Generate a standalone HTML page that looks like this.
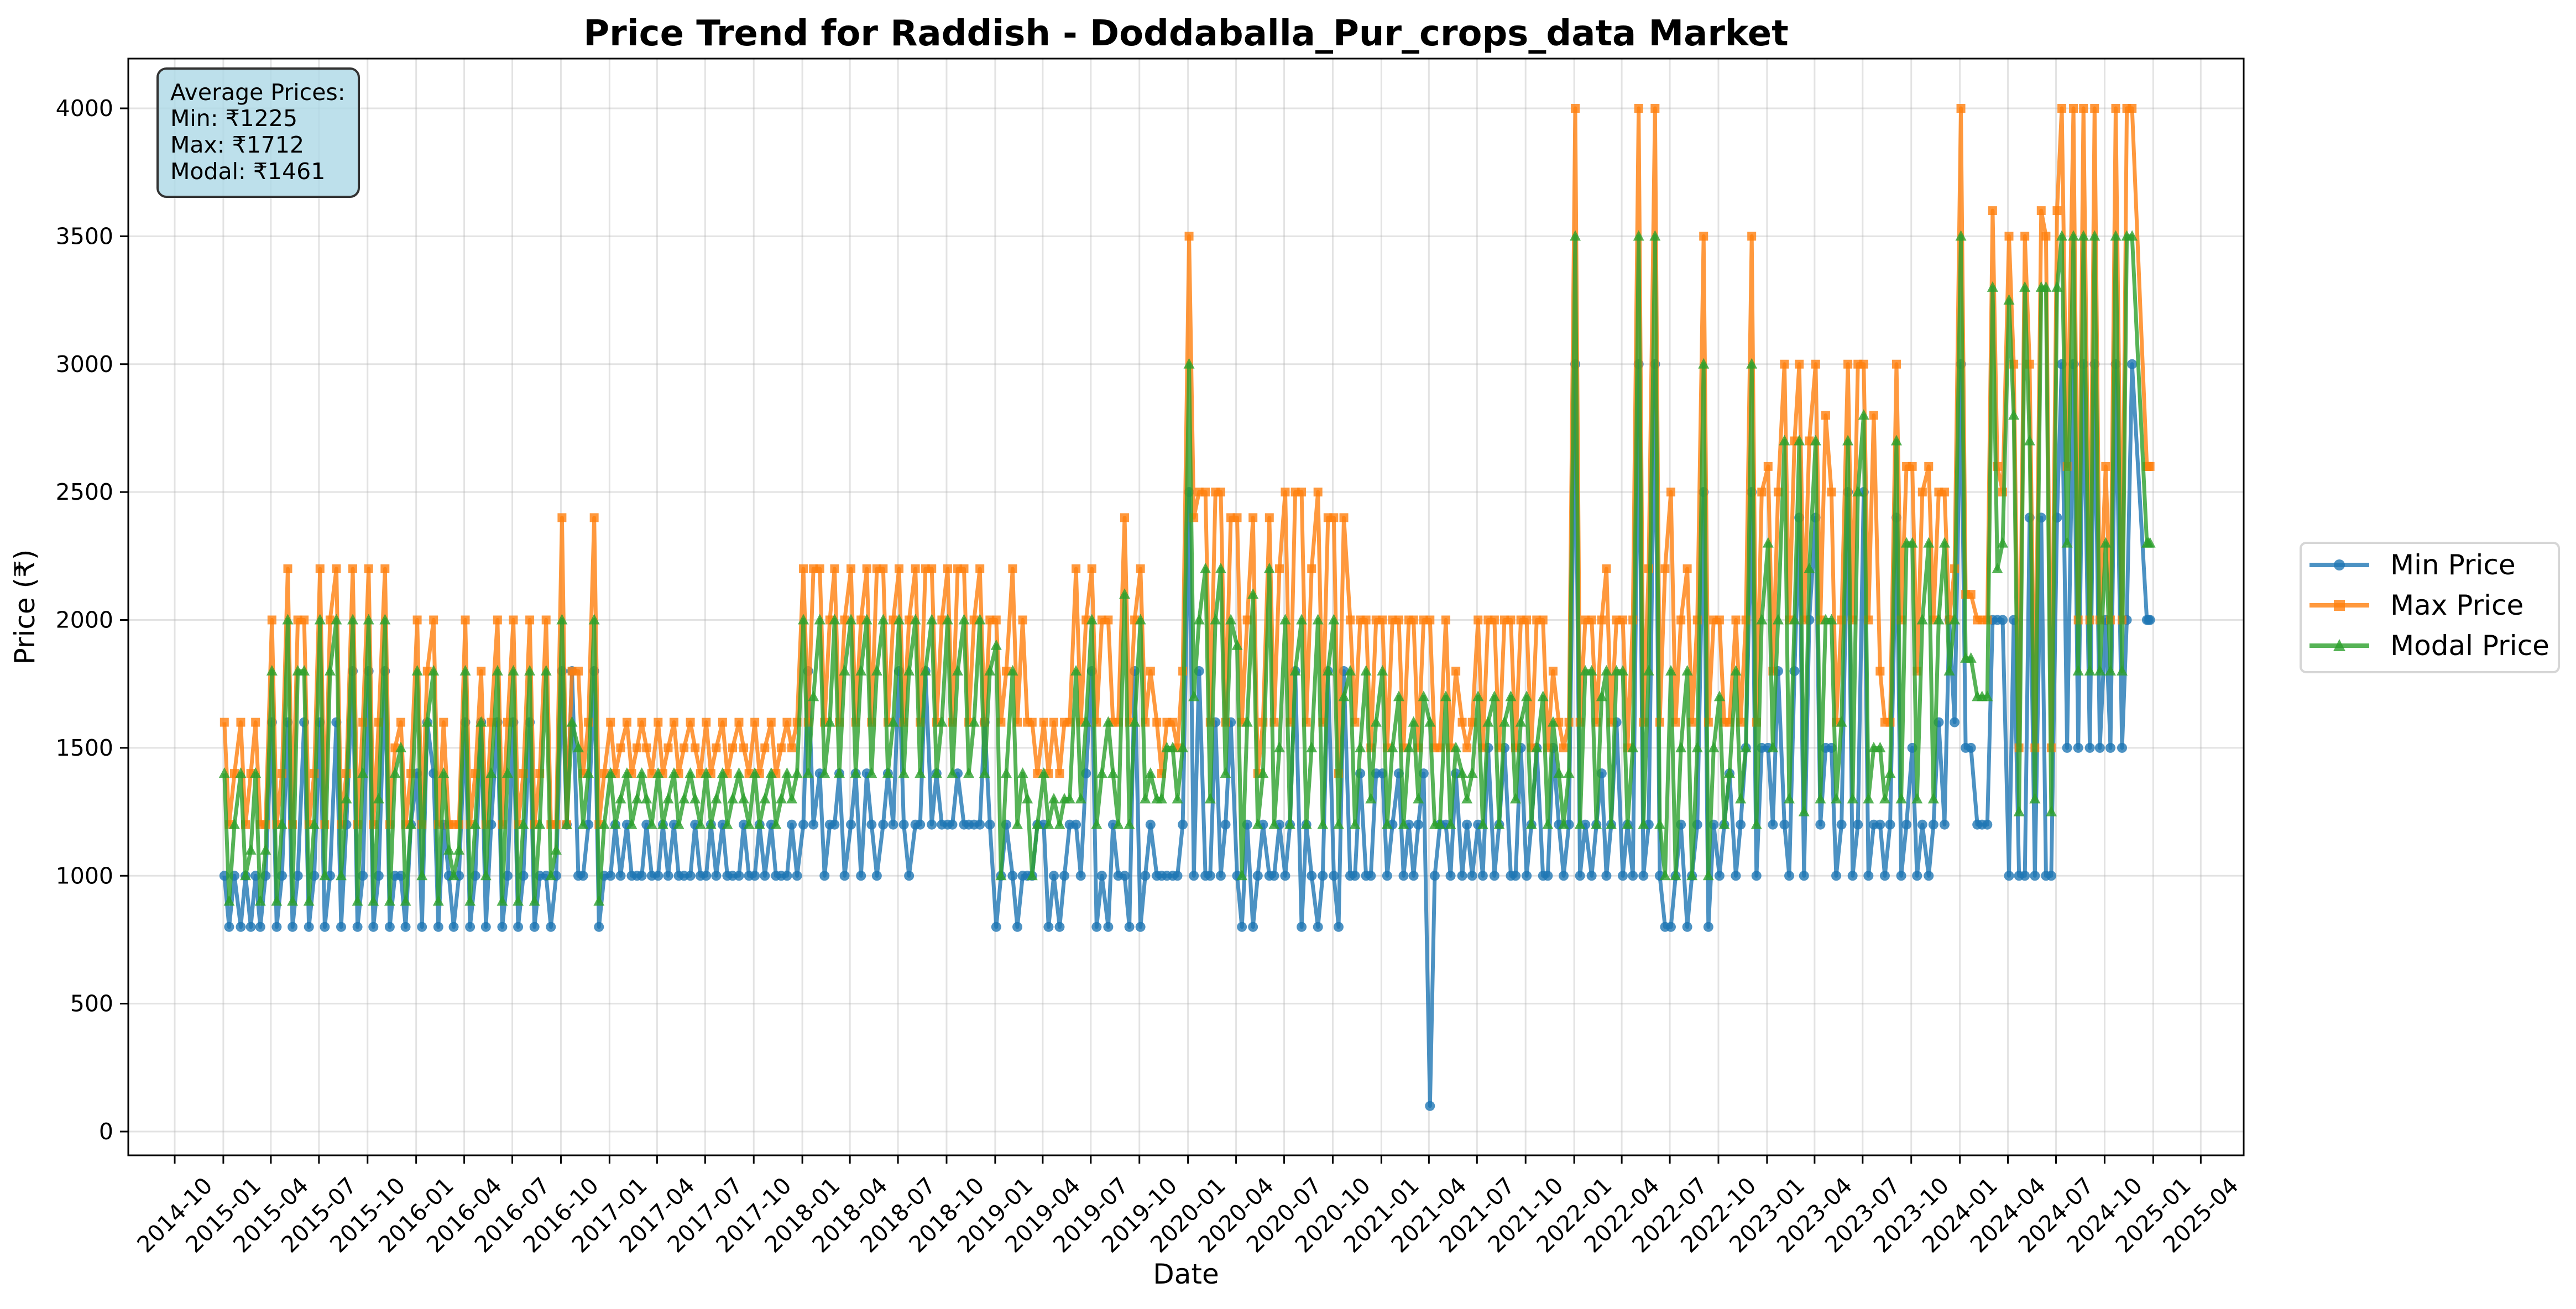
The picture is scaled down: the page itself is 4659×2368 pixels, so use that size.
<!DOCTYPE html>
<html><head><meta charset="utf-8">
<style>
html,body{margin:0;padding:0;background:#fff;}
svg{display:block;font-family:"DejaVu Sans","Liberation Sans",sans-serif;}
</style></head>
<body>
<svg id="chart" width="4659" height="2368" viewBox="0 0 4659 2368" xmlns="http://www.w3.org/2000/svg">
<rect x="0" y="0" width="4659" height="2368" fill="#fff"/>
<text x="2145" y="82" text-anchor="middle" font-size="64" font-weight="bold">Price Trend for Raddish - Doddaballa_Pur_crops_data Market</text>
<g id="grid"></g>
<g id="series" clip-path="url(#clip)"></g>
<defs><clipPath id="clip"><rect x="232" y="106" width="3826" height="1984"/></clipPath></defs>
<rect x="232" y="106" width="3826" height="1984" fill="none" stroke="#000" stroke-width="3"/>
<g id="axes"></g>
<text x="2145" y="2322" text-anchor="middle" font-size="50">Date</text>
<text x="62" y="1098" text-anchor="middle" font-size="50" transform="rotate(-90 62 1098)">Price (₹)</text>
<g>
<rect x="285" y="124" width="364" height="232" rx="16" fill="#add8e6" fill-opacity="0.8" stroke="#333" stroke-width="4"/>
<text x="308" y="181" font-size="41">Average Prices:</text>
<text x="308" y="228" font-size="41">Min: ₹1225</text>
<text x="308" y="276" font-size="41">Max: ₹1712</text>
<text x="308" y="324" font-size="41">Modal: ₹1461</text>
</g>
<g id="legend">
<rect x="4161" y="982" width="467" height="234" rx="10" fill="#fff" fill-opacity="0.8" stroke="#d6d6d6" stroke-width="4"/>
<g>
<line x1="4177" y1="1022" x2="4285" y2="1022" stroke="#1f77b4" stroke-opacity="0.8" stroke-width="8"/>
<circle cx="4231" cy="1022" r="10" fill="#1f77b4" fill-opacity="0.8"/>
<text x="4323" y="1039" font-size="50">Min Price</text></g>
<g>
<line x1="4177" y1="1095" x2="4285" y2="1095" stroke="#ff7f0e" stroke-opacity="0.8" stroke-width="8"/>
<rect x="4221" y="1085" width="20" height="20" fill="#ff7f0e" fill-opacity="0.8"/>
<text x="4323" y="1112" font-size="50">Max Price</text></g>
<g>
<line x1="4177" y1="1168" x2="4285" y2="1168" stroke="#2ca02c" stroke-opacity="0.8" stroke-width="8"/>
<polygon points="4231,1156 4242,1178 4220,1178" fill="#2ca02c" fill-opacity="0.8"/>
<text x="4323" y="1185" font-size="50">Modal Price</text></g>
</g>
</svg>
<script>
const xTickLabels = ["2014-10","2015-01","2015-04","2015-07","2015-10","2016-01","2016-04","2016-07","2016-10","2017-01","2017-04","2017-07","2017-10","2018-01","2018-04","2018-07","2018-10","2019-01","2019-04","2019-07","2019-10","2020-01","2020-04","2020-07","2020-10","2021-01","2021-04","2021-07","2021-10","2022-01","2022-04","2022-07","2022-10","2023-01","2023-04","2023-07","2023-10","2024-01","2024-04","2024-07","2024-10","2025-01","2025-04"];
const yTicks = [0,500,1000,1500,2000,2500,3000,3500,4000];
const dates = [
"2015-01-03","2015-01-12","2015-01-22","2015-02-03","2015-02-12","2015-02-22","2015-03-03","2015-03-12","2015-03-22","2015-04-03","2015-04-12","2015-04-22","2015-05-03","2015-05-12","2015-05-22","2015-06-03","2015-06-12","2015-06-22","2015-07-03","2015-07-12","2015-07-22","2015-08-03","2015-08-12","2015-08-22","2015-09-03","2015-09-12","2015-09-22","2015-10-03","2015-10-12","2015-10-22","2015-11-03","2015-11-12","2015-11-22","2015-12-03","2015-12-12","2015-12-22",
"2016-01-03","2016-01-12","2016-01-22","2016-02-03","2016-02-12","2016-02-22","2016-03-03","2016-03-12","2016-03-22","2016-04-03","2016-04-12","2016-04-22","2016-05-03","2016-05-12","2016-05-22","2016-06-03","2016-06-12","2016-06-22","2016-07-03","2016-07-12","2016-07-22","2016-08-03","2016-08-12","2016-08-22","2016-09-03","2016-09-12","2016-09-22","2016-10-03","2016-10-12","2016-10-22","2016-11-03","2016-11-12","2016-11-22","2016-12-03","2016-12-12","2016-12-22",
"2017-01-03","2017-01-12","2017-01-22","2017-02-03","2017-02-12","2017-02-22","2017-03-03","2017-03-12","2017-03-22","2017-04-03","2017-04-12","2017-04-22","2017-05-03","2017-05-12","2017-05-22","2017-06-03","2017-06-12","2017-06-22","2017-07-03","2017-07-12","2017-07-22","2017-08-03","2017-08-12","2017-08-22","2017-09-03","2017-09-12","2017-09-22","2017-10-03","2017-10-12","2017-10-22","2017-11-03","2017-11-12","2017-11-22","2017-12-03","2017-12-12","2017-12-22",
"2018-01-03","2018-01-12","2018-01-22","2018-02-03","2018-02-12","2018-02-22","2018-03-03","2018-03-12","2018-03-22","2018-04-03","2018-04-12","2018-04-22","2018-05-03","2018-05-12","2018-05-22","2018-06-03","2018-06-12","2018-06-22","2018-07-03","2018-07-12","2018-07-22","2018-08-03","2018-08-12","2018-08-22","2018-09-03","2018-09-12","2018-09-22","2018-10-03","2018-10-12","2018-10-22","2018-11-03","2018-11-12","2018-11-22","2018-12-03","2018-12-12","2018-12-22",
"2019-01-03","2019-01-12","2019-01-22","2019-02-03","2019-02-12","2019-02-22","2019-03-03","2019-03-12","2019-03-22","2019-04-03","2019-04-12","2019-04-22","2019-05-03","2019-05-12","2019-05-22","2019-06-03","2019-06-12","2019-06-22","2019-07-03","2019-07-12","2019-07-22","2019-08-03","2019-08-12","2019-08-22","2019-09-03","2019-09-12","2019-09-22","2019-10-03","2019-10-12","2019-10-22","2019-11-03","2019-11-12","2019-11-22","2019-12-03","2019-12-12","2019-12-22",
"2020-01-03","2020-01-12","2020-01-22","2020-02-03","2020-02-12","2020-02-22","2020-03-03","2020-03-12","2020-03-22","2020-04-03","2020-04-12","2020-04-22","2020-05-03","2020-05-12","2020-05-22","2020-06-03","2020-06-12","2020-06-22","2020-07-03","2020-07-12","2020-07-22","2020-08-03","2020-08-12","2020-08-22","2020-09-03","2020-09-12","2020-09-22","2020-10-03","2020-10-12","2020-10-22","2020-11-03","2020-11-12","2020-11-22","2020-12-03","2020-12-12","2020-12-22",
"2021-01-03","2021-01-12","2021-01-22","2021-02-03","2021-02-12","2021-02-22","2021-03-03","2021-03-12","2021-03-22","2021-04-03","2021-04-12","2021-04-22","2021-05-03","2021-05-12","2021-05-22","2021-06-03","2021-06-12","2021-06-22","2021-07-03","2021-07-12","2021-07-22","2021-08-03","2021-08-12","2021-08-22","2021-09-03","2021-09-12","2021-09-22","2021-10-03","2021-10-12","2021-10-22","2021-11-03","2021-11-12","2021-11-22","2021-12-03","2021-12-12","2021-12-22",
"2022-01-03","2022-01-12","2022-01-22","2022-02-03","2022-02-12","2022-02-22","2022-03-03","2022-03-12","2022-03-22","2022-04-03","2022-04-12","2022-04-22","2022-05-03","2022-05-12","2022-05-22","2022-06-03","2022-06-12","2022-06-22","2022-07-03","2022-07-12","2022-07-22","2022-08-03","2022-08-12","2022-08-22","2022-09-03","2022-09-12","2022-09-22","2022-10-03","2022-10-12","2022-10-22","2022-11-03","2022-11-12","2022-11-22","2022-12-03","2022-12-12","2022-12-22",
"2023-01-03","2023-01-12","2023-01-22","2023-02-03","2023-02-12","2023-02-22","2023-03-03","2023-03-12","2023-03-22","2023-04-03","2023-04-12","2023-04-22","2023-05-03","2023-05-12","2023-05-22","2023-06-03","2023-06-12","2023-06-22","2023-07-03","2023-07-12","2023-07-22","2023-08-03","2023-08-12","2023-08-22","2023-09-03","2023-09-12","2023-09-22","2023-10-03","2023-10-12","2023-10-22","2023-11-03","2023-11-12","2023-11-22","2023-12-03","2023-12-12","2023-12-22",
"2024-01-03","2024-01-12","2024-01-22","2024-02-03","2024-02-12","2024-02-22","2024-03-03","2024-03-12","2024-03-22","2024-04-03","2024-04-12","2024-04-22","2024-05-03","2024-05-12","2024-05-22","2024-06-03","2024-06-12","2024-06-22","2024-07-03","2024-07-12","2024-07-22","2024-08-03","2024-08-12","2024-08-22","2024-09-03","2024-09-12","2024-09-22","2024-10-03","2024-10-12","2024-10-22","2024-11-03","2024-11-12","2024-11-22","2024-12-20","2024-12-23","2024-12-26"
];
const minPrice = [
1000,800,1000, 800,1000,800, 1000,800,1000, 1600,800,1000, 1600,800,1000, 1600,800,1000, 1600,800,1000, 1600,800,1200, 1800,800,1000, 1800,800,1000, 1800,800,1000, 1000,800,1200,
1400,800,1600, 1400,800,1200, 1000,800,1000, 1600,800,1000, 1600,800,1200, 1600,800,1000, 1600,800,1000, 1600,800,1000, 1000,800,1000, 1800,1200,1800, 1000,1000,1200, 1800,800,1000,
1000,1200,1000, 1200,1000,1000, 1000,1200,1000, 1000,1200,1000, 1200,1000,1000, 1000,1200,1000, 1000,1200,1000, 1200,1000,1000, 1000,1200,1000, 1000,1200,1000, 1200,1000,1000, 1000,1200,1000,
1200,1800,1200, 1400,1000,1200, 1200,1400,1000, 1200,1400,1000, 1400,1200,1000, 1200,1400,1200, 1800,1200,1000, 1200,1200,1800, 1200,1400,1200, 1200,1200,1400, 1200,1200,1200, 1200,1600,1200,
800,1000,1200, 1000,800,1000, 1000,1000,1200, 1200,800,1000, 800,1000,1200, 1200,1000,1400, 1800,800,1000, 800,1200,1000, 1000,800,1800, 800,1000,1200, 1000,1000,1000, 1000,1000,1200,
2500,1000,1800, 1000,1000,1600, 1000,1200,1600, 1000,800,1200, 800,1000,1200, 1000,1000,1200, 1000,1200,1800, 800,1200,1000, 800,1000,1800, 1000,800,1800, 1000,1000,1400, 1000,1000,1400,
1400,1000,1200, 1400,1000,1200, 1000,1200,1400, 100,1000,1200, 1200,1000,1400, 1000,1200,1000, 1200,1000,1500, 1000,1200,1500, 1000,1000,1500, 1000,1200,1500, 1000,1000,1500, 1200,1000,1200,
3000,1000,1200, 1000,1200,1400, 1000,1200,1600, 1000,1200,1000, 3000,1000,1200, 3000,1000,800, 800,1000,1200, 800,1000,1200, 2500,800,1200, 1000,1200,1400, 1000,1200,1500, 2500,1000,1500,
1500,1200,1800, 1200,1000,1800, 2400,1000,2000, 2400,1200,1500, 1500,1000,1200, 2500,1000,1200, 2500,1000,1200, 1200,1000,1200, 2400,1000,1200, 1500,1000,1200, 1000,1200,1600, 1200,2000,1600,
3000,1500,1500, 1200,1200,1200, 2000,2000,2000, 1000,2000,1000, 1000,2400,1000, 2400,1000,1000, 2400,3000,1500, 3000,1500,3000, 1500,3000,1500, 2000,1500,3000, 1500,2000,3000, 2000,2000,2000
];
const maxPrice = [
1600,1200,1400, 1600,1200,1400, 1600,1200,1200, 2000,1200,1400, 2200,1200,2000, 2000,1200,1400, 2200,1200,2000, 2200,1200,1400, 2200,1200,1600, 2200,1200,1600, 2200,1200,1500, 1600,1200,1400,
2000,1200,1800, 2000,1200,1600, 1200,1200,1200, 2000,1200,1400, 1800,1200,1600, 2000,1200,1600, 2000,1200,1400, 2000,1200,1400, 2000,1200,1200, 2400,1200,1800, 1800,1400,1600, 2400,1200,1400,
1600,1400,1500, 1600,1400,1500, 1600,1500,1400, 1600,1400,1500, 1600,1400,1500, 1600,1500,1400, 1600,1400,1500, 1600,1400,1500, 1600,1500,1400, 1600,1400,1500, 1600,1400,1500, 1600,1500,1600,
2200,1600,2200, 2200,1600,2000, 2200,1600,2000, 2200,1600,2000, 2200,1600,2200, 2200,1600,2000, 2200,1600,2000, 2200,1600,2200, 2200,1600,2000, 2200,1600,2200, 2200,1600,2000, 2200,1600,2000,
2000,1600,1800, 2200,1600,2000, 1600,1600,1400, 1600,1400,1600, 1400,1600,1600, 2200,1600,2000, 2200,1600,2000, 2000,1600,1600, 2400,1600,2000, 2200,1600,1800, 1600,1400,1600, 1600,1500,1800,
3500,2400,2500, 2500,1600,2500, 2500,1600,2400, 2400,1600,2000, 2400,1400,1600, 2400,1600,2200, 2500,1600,2500, 2500,1600,2200, 2500,1600,2400, 2400,1400,2400, 2000,1600,2000, 2000,1500,2000,
2000,1500,2000, 2000,1500,2000, 2000,1500,2000, 2000,1500,1500, 2000,1500,1800, 1600,1500,1600, 2000,1500,2000, 2000,1500,2000, 2000,1500,2000, 2000,1500,2000, 2000,1500,1800, 1600,1500,1600,
4000,1600,2000, 2000,1600,2000, 2200,1600,2000, 2000,1500,2000, 4000,1600,2200, 4000,1600,2200, 2500,1600,2000, 2200,1600,2000, 3500,1600,2000, 2000,1600,1600, 2000,1600,2000, 3500,1600,2500,
2600,1800,2500, 3000,2000,2700, 3000,2000,2700, 3000,2000,2800, 2500,1600,2000, 3000,2000,3000, 3000,2000,2800, 1800,1600,1600, 3000,2000,2600, 2600,1800,2500, 2600,2000,2500, 2500,2000,2200,
4000,2100,2100, 2000,2000,2000, 3600,2600,2500, 3500,3000,1500, 3500,3000,1500, 3600,3500,1500, 3600,4000,2600, 4000,2000,4000, 2000,4000,2000, 2600,2000,4000, 2000,4000,4000, 2600,2600,2600
];
const modalPrice = [
1400,900,1200, 1400,1000,1100, 1400,900,1100, 1800,900,1200, 2000,900,1800, 1800,900,1200, 2000,1000,1800, 2000,1000,1300, 2000,900,1400, 2000,900,1300, 2000,900,1400, 1500,900,1200,
1800,1000,1600, 1800,900,1400, 1100,1000,1100, 1800,900,1200, 1600,1000,1400, 1800,900,1400, 1800,900,1200, 1800,900,1200, 1800,1000,1100, 2000,1200,1600, 1500,1200,1400, 2000,900,1200,
1400,1200,1300, 1400,1200,1300, 1400,1300,1200, 1400,1200,1300, 1400,1200,1300, 1400,1300,1200, 1400,1200,1300, 1400,1200,1300, 1400,1300,1200, 1400,1200,1300, 1400,1200,1300, 1400,1300,1400,
2000,1400,1700, 2000,1400,1600, 2000,1400,1800, 2000,1400,1800, 2000,1400,1800, 2000,1400,1600, 2000,1400,1800, 2000,1400,1800, 2000,1400,1600, 2000,1400,1800, 2000,1400,1600, 2000,1400,1800,
1900,1000,1400, 1800,1200,1400, 1300,1000,1200, 1400,1200,1300, 1200,1300,1300, 1800,1300,1600, 2000,1200,1400, 1600,1400,1200, 2100,1200,1600, 2000,1300,1400, 1300,1300,1500, 1500,1300,1500,
3000,1700,2000, 2200,1300,2000, 2200,1400,2000, 1900,1000,1600, 2100,1200,1400, 2200,1200,1500, 2000,1200,1800, 2000,1200,1500, 2000,1200,1800, 2000,1200,1700, 1800,1200,1500, 1800,1300,1600,
1800,1200,1500, 1700,1200,1500, 1600,1300,1700, 1600,1200,1200, 1700,1200,1500, 1400,1300,1400, 1700,1200,1600, 1700,1200,1600, 1700,1300,1600, 1700,1200,1500, 1700,1200,1600, 1400,1200,1400,
3500,1200,1800, 1800,1200,1700, 1800,1200,1800, 1800,1200,1500, 3500,1200,1800, 3500,1200,1000, 1800,1000,1500, 1800,1000,1500, 3000,1000,1500, 1700,1200,1400, 1800,1300,1500, 3000,1200,2000,
2300,1500,2000, 2700,1300,2000, 2700,1250,2200, 2700,1300,2000, 2000,1300,1600, 2700,1300,2500, 2800,1300,1500, 1500,1300,1400, 2700,1300,2300, 2300,1300,2000, 2300,1300,2000, 2300,1800,2000,
3500,1850,1850, 1700,1700,1700, 3300,2200,2300, 3250,2800,1250, 3300,2700,1300, 3300,3300,1250, 3300,3500,2300, 3500,1800,3500, 1800,3500,1800, 2300,1800,3500, 1800,3500,3500, 2300,2300,2300
];

const NS = "http://www.w3.org/2000/svg";
const svg = document.getElementById('chart');
const X0 = 316, PXDAY = 0.9555, BASE = Date.UTC(2014, 9, 1);
function xOfDate(s) { const p = s.split('-').map(Number); return X0 + (Date.UTC(p[0], p[1]-1, p[2] || 1) - BASE) / 86400000 * PXDAY; }
function yOf(v) { return 2047 - v * 0.46275; }
function mk(tag, attrs, parent) { const e = document.createElementNS(NS, tag); for (const k in attrs) e.setAttribute(k, attrs[k]); parent.appendChild(e); return e; }

const grid = document.getElementById('grid');
const axes = document.getElementById('axes');
xTickLabels.forEach(lab => {
  const x = xOfDate(lab + '-01');
  const g = mk('line', {x1:x, y1:106, x2:x, y2:2090, stroke:'#b0b0b0', 'stroke-opacity':0.35, 'stroke-width':3}, grid);
  
  
  const t = mk('line', {x1:x, y1:2090, x2:x, y2:2105, stroke:'#000', 'stroke-width':3}, axes);
  
  
  const tx = mk('text', {x:x, y:2198, 'text-anchor':'middle', 'dominant-baseline':'central', 'font-size':41, transform:'rotate(-45 ' + x + ' 2198)'}, axes);
  tx.textContent = lab;
  
  
});
yTicks.forEach(v => {
  const y = yOf(v);
  const g = mk('line', {x1:232, y1:y, x2:4058, y2:y, stroke:'#b0b0b0', 'stroke-opacity':0.35, 'stroke-width':3}, grid);
  
  
  const t = mk('line', {x1:217, y1:y, x2:232, y2:y, stroke:'#000', 'stroke-width':3}, axes);
  
  
  const tx = mk('text', {x:205, y:y, 'text-anchor':'end', 'dominant-baseline':'central', 'font-size':41}, axes);
  tx.textContent = String(v);
  
  
});

const seriesG = document.getElementById('series');
function drawSeries(vals, color, marker, name) {
  const g = mk('g', {}, seriesG);
  
  
  const pts = vals.map((v, i) => xOfDate(dates[i]).toFixed(1) + ',' + yOf(v).toFixed(1)).join(' ');
  const pl = mk('polyline', {points:pts, fill:'none', stroke:color, 'stroke-opacity':0.8, 'stroke-width':7, 'stroke-linejoin':'round'}, g);
  
  
  vals.forEach((v, i) => {
    const x = xOfDate(dates[i]), y = yOf(v);
    let m;
    if (marker === 'circle') m = mk('circle', {cx:x, cy:y, r:9, fill:color, 'fill-opacity':0.8}, g);
    else if (marker === 'square') m = mk('rect', {x:x-8, y:y-8, width:16, height:16, fill:color, 'fill-opacity':0.8}, g);
    else m = mk('polygon', {points:(x)+','+(y-11)+' '+(x+10)+','+(y+8)+' '+(x-10)+','+(y+8), fill:color, 'fill-opacity':0.8}, g);
    
    
  });
}
drawSeries(minPrice, '#1f77b4', 'circle', 'min-price');
drawSeries(maxPrice, '#ff7f0e', 'square', 'max-price');
drawSeries(modalPrice, '#2ca02c', 'triangle', 'modal-price');
</script>
</body></html>
